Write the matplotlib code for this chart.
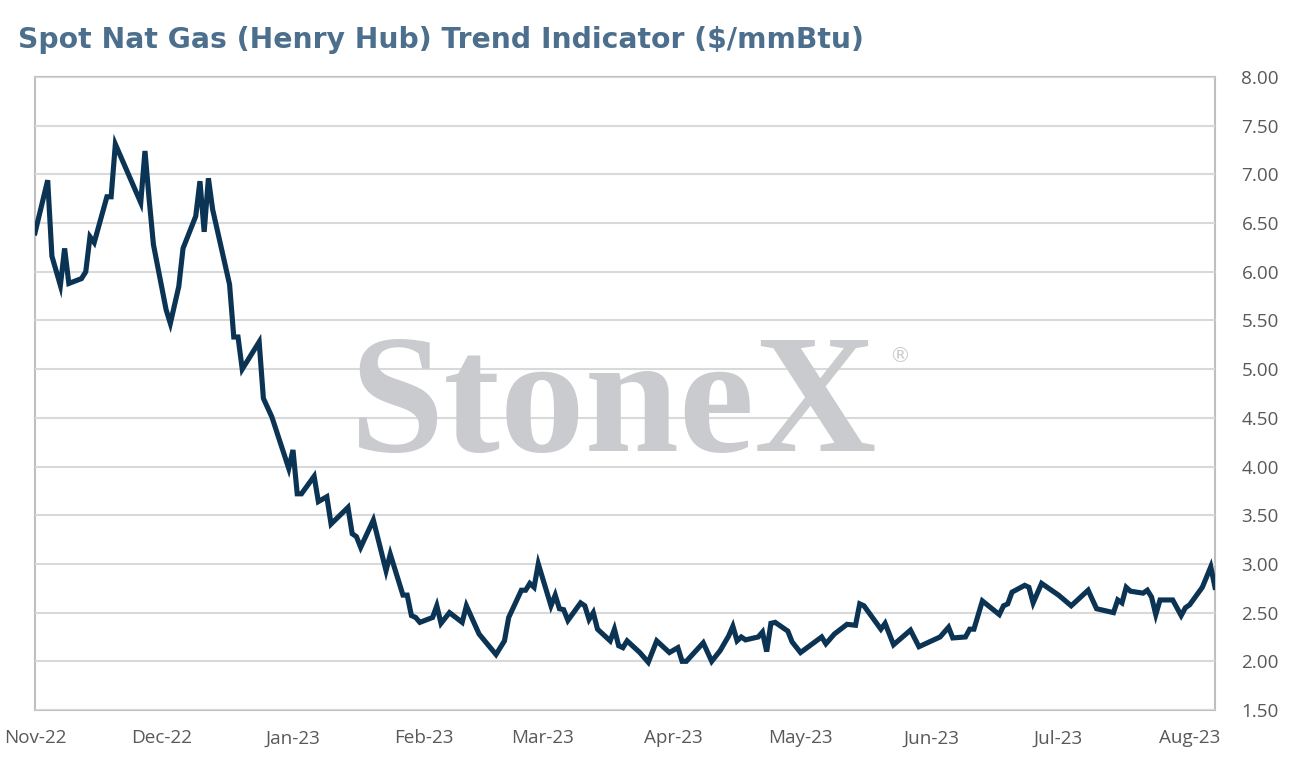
import matplotlib
matplotlib.use("Agg")
import matplotlib.pyplot as plt
import matplotlib.dates as mdates
import pandas as pd

# ---- data ----
start_date = "2022-11-01"
day_offsets = [0, 3, 4, 6, 7, 8, 11, 12, 13, 14, 17, 18, 19, 22, 25, 26, 27, 28,
               31, 32, 34, 35, 38, 39, 40, 41, 42, 46, 47, 48, 49, 53, 54, 56,
               60, 61, 62, 63, 66, 67, 69, 70, 74, 75, 76, 77, 80, 83, 84, 87, 88, 89,
               90, 91, 94, 95, 96, 98, 101, 102, 105, 109, 111, 112, 115, 116, 117, 118,
               119, 122, 123, 124, 125, 126, 129, 130, 131, 132, 133, 136, 137, 138, 139,
               140, 143, 145, 147, 150, 152, 153, 154, 158, 160, 162, 164, 165, 166, 167,
               168, 171, 172, 173, 174, 175, 178, 179, 181, 186, 187, 189, 192, 194, 195,
               196, 200, 201, 203, 207, 209, 214, 216, 217, 220, 221, 222, 224,
               228, 229, 230, 231, 234, 235, 236, 238, 242, 245, 249, 251, 255, 256, 257,
               258, 259, 262, 263, 264, 265, 266, 269, 271, 272, 273, 276, 278, 279]
prices = [6.40, 6.94, 6.16, 5.86, 6.24, 5.88, 5.93, 6.00, 6.36, 6.30, 6.77, 6.77, 7.31, 7.01,
          6.71, 7.24, 6.74, 6.28,
          5.61, 5.47, 5.85, 6.24, 6.57, 6.93, 6.41, 6.96, 6.64, 5.87, 5.33, 5.33, 5.00, 5.28,
          4.70, 4.51,
          3.98, 4.17, 3.72, 3.72, 3.90, 3.64, 3.69, 3.41, 3.58, 3.31, 3.28, 3.17, 3.45, 2.93,
          3.10, 2.68, 2.68, 2.47,
          2.45, 2.40, 2.45, 2.57, 2.39, 2.50, 2.40, 2.57, 2.28, 2.07, 2.21, 2.45, 2.73, 2.73,
          2.80, 2.76,
          3.00, 2.57, 2.68, 2.54, 2.53, 2.42, 2.60, 2.57, 2.43, 2.50, 2.33, 2.21, 2.33, 2.16,
          2.14,
          2.21, 2.09, 1.99, 2.21, 2.09, 2.14, 2.00, 2.00, 2.19, 2.00, 2.11, 2.26, 2.36, 2.21,
          2.25,
          2.22, 2.25, 2.30, 2.10, 2.39, 2.40, 2.31, 2.20, 2.09, 2.25, 2.18, 2.28, 2.38, 2.37,
          2.59,
          2.57, 2.33, 2.39, 2.17, 2.32, 2.15, 2.25, 2.35, 2.24, 2.25, 2.33, 2.33, 2.62,
          2.48, 2.57, 2.59, 2.71, 2.78, 2.76, 2.60, 2.80, 2.68, 2.57, 2.73, 2.54, 2.50, 2.63,
          2.60,
          2.76, 2.72, 2.70, 2.73, 2.66, 2.48, 2.63, 2.63, 2.47, 2.55, 2.58, 2.76, 2.97, 2.76]
y_ticks = [1.50, 2.00, 2.50, 3.00, 3.50, 4.00, 4.50, 5.00, 5.50, 6.00, 6.50, 7.00, 7.50, 8.00]
title_text = "Spot Nat Gas (Henry Hub) Trend Indicator ($/mmBtu)"
watermark = "StoneX"

dates = pd.Timestamp(start_date) + pd.to_timedelta(day_offsets, unit="D")

W, H = 1294, 771
FONT = "Open Sans"
plt.rcParams["font.family"] = [FONT, "DejaVu Sans"]

fig = plt.figure(figsize=(W / 100, H / 100), dpi=100)
ax = fig.add_axes([35 / W, 1 - 710 / H, 1180 / W, 633 / H])

ax.plot(dates, prices, color="#0B3354", linewidth=3.7, solid_joinstyle="miter",
        zorder=3)

ax.set_ylim(1.5, 8.0)
ax.set_xlim(pd.Timestamp(start_date), dates[-1])
ax.set_yticks(y_ticks)
ax.yaxis.set_major_formatter(matplotlib.ticker.FormatStrFormatter("%.2f"))
ax.yaxis.tick_right()
ax.xaxis.set_major_locator(mdates.MonthLocator())
ax.xaxis.set_major_formatter(mdates.DateFormatter("%b-%y"))

ax.tick_params(axis="both", length=0, labelsize=13.6, labelcolor="#595959")
ax.tick_params(axis="y", pad=19)
ax.tick_params(axis="x", pad=14)

ax.grid(axis="y", color="#D9D9D9", linewidth=1.5, zorder=1)
ax.set_axisbelow(False)
for sp in ax.spines.values():
    sp.set_color("#BFBFBF")
    sp.set_linewidth(1.5)

# watermark (real text)
fig.text(614 / W, 1 - 451 / H, watermark, ha="center", va="baseline",
         fontsize=122, fontweight="bold", family="Liberation Serif",
         color="#CACBCE", zorder=0)
fig.text(900 / W, 1 - 356 / H, "\u00ae", ha="center", va="center",
         fontsize=15, family="DejaVu Sans", color="#CACBCE", zorder=0)

fig.text(18 / W, 1 - 40 / H, title_text, ha="left", va="center",
         fontsize=20.3, fontweight="bold", family="DejaVu Sans", color="#4B6F8C")

fig.savefig("out.png", dpi=100)
